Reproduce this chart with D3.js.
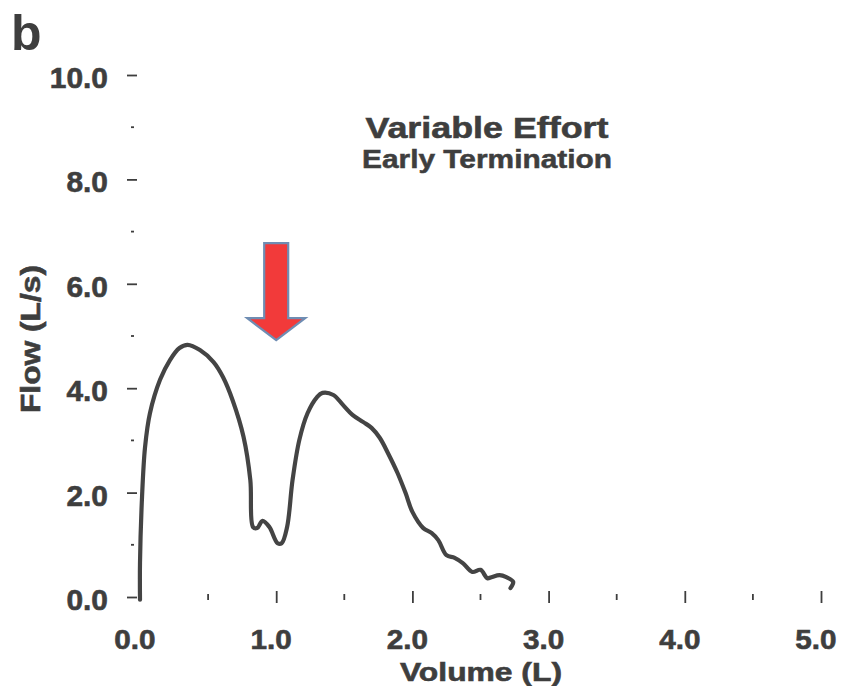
<!DOCTYPE html>
<html>
<head>
<meta charset="utf-8">
<script src="https://cdn.jsdelivr.net/npm/d3@7"></script>
<style>
  html, body { margin: 0; padding: 0; background: #ffffff; }
  svg { display: block; }
  text { font-family: "Liberation Sans", Arial, Helvetica, sans-serif; font-weight: bold; fill: #3e3e3e; }
</style>
</head>
<body>
<svg id="chart" width="844" height="686"></svg>
<script>
// Flow–volume loop, expiratory limb (volume in L, flow in L/s)
const volume = [0.00, 0.00, 0.015, 0.037, 0.073, 0.147, 0.22, 0.29, 0.35, 0.44, 0.54, 0.61, 0.68, 0.76, 0.81,
  0.83, 0.86, 0.90, 0.95, 1.01, 1.04, 1.08, 1.12, 1.17, 1.23, 1.30, 1.34, 1.42, 1.49, 1.56, 1.64, 1.70,
  1.76, 1.82, 1.89, 1.95, 2.00, 2.08, 2.14, 2.19, 2.25, 2.31, 2.37, 2.44, 2.50, 2.55, 2.58, 2.64, 2.69, 2.74, 2.72];
const flow = [-0.05, 0.65, 1.92, 2.87, 3.52, 4.16, 4.54, 4.77, 4.83, 4.73, 4.50, 4.21, 3.77, 3.07, 2.24,
  1.34, 1.32, 1.46, 1.34, 1.03, 1.03, 1.34, 2.24, 3.01, 3.52, 3.83, 3.91, 3.87, 3.68, 3.49, 3.35, 3.24,
  3.05, 2.76, 2.38, 1.99, 1.63, 1.32, 1.23, 1.09, 0.80, 0.75, 0.65, 0.48, 0.52, 0.36, 0.38, 0.42, 0.38, 0.29, 0.17];

const xMajorTicks = [1, 2, 3, 4, 5];
const xMinorTicks = [0.5, 1.5, 2.5, 3.5, 4.5];
const xTickLabels = ["0.0", "1.0", "2.0", "3.0", "4.0", "5.0"];
const yMajorTicks = [0, 2, 4, 6, 8, 10];
const yMinorTicks = [1, 3, 5, 7, 9];
const yTickLabels = ["0.0", "2.0", "4.0", "6.0", "8.0", "10.0"];

const titleLines = ["Variable Effort", "Early Termination"];
const panelLetter = "b";
const xTitle = "Volume (L)";
const yTitle = "Flow (L/s)";
// Marker pointing at the dip in flow
const arrowMark = { vol: 1.0, top: 6.78, tip: 4.92 };

const svg = d3.select("#chart");
const x = d3.scaleLinear().domain([0, 5]).range([140, 821]);
const y = d3.scaleLinear().domain([0, 10]).range([597, 75]);

// Stretch text horizontally by a factor of its natural width
function stretch(sel, factor) {
  sel.each(function () {
    const w = this.getComputedTextLength();
    d3.select(this).attr("textLength", w * factor).attr("lengthAdjust", "spacingAndGlyphs");
  });
}
function fitWidth(sel, width) {
  sel.attr("textLength", width).attr("lengthAdjust", "spacingAndGlyphs");
}

const ink = "#3e3e3e";

// Y axis ticks (no axis line)
const yAxis = svg.append("g")
  .attr("transform", `translate(${x(0) - 3},0)`)
  .call(d3.axisLeft(y).tickValues(yMajorTicks).tickSize(10).tickFormat(""));
yAxis.select(".domain").remove();
yAxis.selectAll(".tick line").attr("stroke", ink).attr("stroke-width", 1.8);

svg.append("g").selectAll("line").data(yMinorTicks).join("line")
  .attr("x1", x(0) - 9).attr("x2", x(0) - 6)
  .attr("y1", d => y(d)).attr("y2", d => y(d))
  .attr("stroke", ink).attr("stroke-width", 1.8);

svg.append("g").selectAll("text").data(yMajorTicks).join("text")
  .attr("x", 108).attr("y", d => y(d) + 13)
  .attr("text-anchor", "end")
  .attr("font-size", 29)
  .style("stroke", "#3e3e3e").style("stroke-width", 0.6)
  .text((d, i) => yTickLabels[i])
  .call(stretch, 1.03);

// X axis ticks (no axis line)
const xAxis = svg.append("g")
  .attr("transform", `translate(0,${y(0) + 6})`)
  .call(d3.axisTop(x).tickValues(xMajorTicks).tickSize(12).tickFormat(""));
xAxis.select(".domain").remove();
xAxis.selectAll(".tick line").attr("stroke", ink).attr("stroke-width", 1.8);

svg.append("g").selectAll("line").data(xMinorTicks).join("line")
  .attr("x1", d => x(d)).attr("x2", d => x(d))
  .attr("y1", y(0) - 3).attr("y2", y(0) + 3)
  .attr("stroke", ink).attr("stroke-width", 1.8);

svg.append("g").selectAll("text").data([0, 1, 2, 3, 4, 5]).join("text")
  .attr("x", d => x(d) - 5).attr("y", 649)
  .attr("text-anchor", "middle")
  .attr("font-size", 27)
  .style("stroke", "#3e3e3e").style("stroke-width", 0.6)
  .text((d, i) => xTickLabels[i])
  .call(stretch, 1.1);

// Axis titles
svg.append("text")
  .attr("x", 481).attr("y", 681)
  .attr("text-anchor", "middle")
  .attr("font-size", 26)
  .style("stroke", "#3e3e3e").style("stroke-width", 0.6)
  .text(xTitle)
  .call(fitWidth, 162);

svg.append("text")
  .attr("transform", "translate(40,339) rotate(-90)")
  .attr("text-anchor", "middle")
  .attr("font-size", 28)
  .style("stroke", "#3e3e3e").style("stroke-width", 0.6)
  .text(yTitle)
  .call(fitWidth, 148);

// Title
svg.append("text")
  .attr("x", 487).attr("y", 138)
  .attr("text-anchor", "middle")
  .attr("font-size", 30)
  .style("stroke", "#3e3e3e").style("stroke-width", 0.6)
  .text(titleLines[0])
  .call(fitWidth, 243);
svg.append("text")
  .attr("x", 487).attr("y", 168)
  .attr("text-anchor", "middle")
  .attr("font-size", 25)
  .style("stroke", "#3e3e3e").style("stroke-width", 0.5)
  .text(titleLines[1])
  .call(fitWidth, 250);

// Panel letter
svg.append("text")
  .attr("x", 11).attr("y", 50)
  .attr("font-size", 50)
  .text(panelLetter);

// Flow–volume curve
const pts = volume.map((v, i) => [v, flow[i]]);
svg.append("path")
  .datum(pts)
  .attr("fill", "none")
  .attr("stroke", "#444444")
  .attr("stroke-width", 4.2)
  .attr("stroke-linejoin", "round")
  .attr("stroke-linecap", "round")
  .attr("d", d3.line().x(d => x(d[0])).y(d => y(d[1])).curve(d3.curveCatmullRom.alpha(0.5)));

// Red arrow marker
const ax = x(arrowMark.vol), aTop = y(arrowMark.top), aTip = y(arrowMark.tip);
const shaftHalf = 12, headHalf = 29, headLen = 22;
const arrowPts = [
  [ax - shaftHalf, aTop], [ax + shaftHalf, aTop], [ax + shaftHalf, aTip - headLen],
  [ax + headHalf, aTip - headLen], [ax, aTip], [ax - headHalf, aTip - headLen],
  [ax - shaftHalf, aTip - headLen]
];
svg.append("path")
  .attr("d", "M" + arrowPts.map(p => p.join(",")).join("L") + "Z")
  .attr("fill", "#f23a3a")
  .attr("stroke", "#6f8db3")
  .attr("stroke-width", 2.2)
  .attr("stroke-linejoin", "miter");
</script>
</body>
</html>
